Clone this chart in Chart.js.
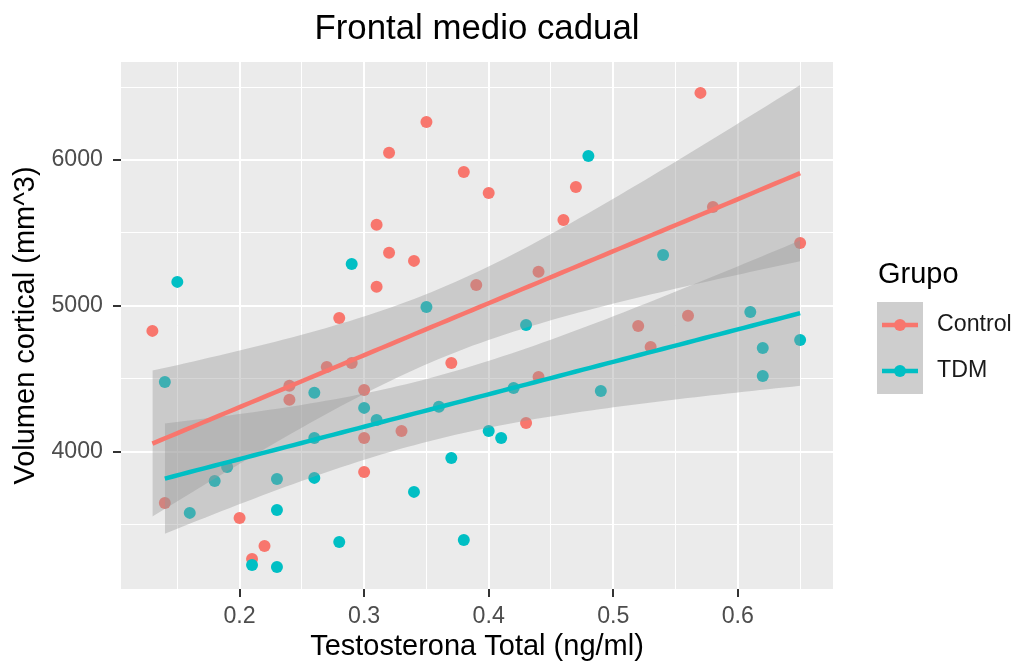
<!DOCTYPE html>
<html><head><meta charset="utf-8">
<script src="https://cdn.jsdelivr.net/npm/chart.js@4.4.1/dist/chart.umd.min.js"></script>
<style>html,body{margin:0;padding:0;background:#fff;}#wrap{width:1018px;height:665px;}</style>
</head><body><div id="wrap"><canvas id="c" width="1018" height="665"></canvas></div>
<script>
const chartTitle = 'Frontal medio cadual';
const xTitle = 'Testosterona Total (ng/ml)';
const yTitle = 'Volumen cortical (mm^3)';
const legendTitle = 'Grupo';
const groupNames = ['Control', 'TDM'];
const groupColors = ['#F8766D', '#00BFC4'];

const controlX = [0.13,0.14,0.20,0.21,0.22,0.24,0.24,0.27,0.28,0.29,0.30,0.30,0.30,0.31,0.31,0.32,0.32,0.33,0.34,0.35,0.37,0.38,0.39,0.40,0.43,0.44,0.44,0.46,0.47,0.52,0.53,0.56,0.57,0.58,0.65];
const controlY = [4828,3648,3545,3264,3353,4451,4355,4581,4917,4608,4423,4094,3861,5555,5130,6049,5363,4142,5308,6261,4608,5917,5143,5773,4197,5233,4512,5588,5814,4862,4718,4931,6460,5678,5431];

const tdmX = [0.14,0.15,0.16,0.18,0.19,0.21,0.23,0.23,0.23,0.26,0.26,0.26,0.28,0.29,0.30,0.31,0.34,0.35,0.36,0.37,0.38,0.40,0.41,0.42,0.43,0.48,0.49,0.54,0.61,0.62,0.62,0.65];
const tdmY = [4478,5164,3580,3799,3895,3223,3813,3600,3209,4403,4094,3820,3381,5286,4300,4217,3724,4992,4307,3957,3394,4142,4094,4437,4869,6027,4416,5348,4958,4711,4519,4766];

const xMajorTicks = [0.2,0.3,0.4,0.5,0.6];
const xMinorTicks = [0.15,0.25,0.35,0.45,0.55,0.65];
const yMajorTicks = [4000,5000,6000];
const yMinorTicks = [3500,4500,5500,6500];
const xLimits = [0.1048, 0.6764];
const yLimits = [3058, 6672];

function tQuantile975(df){
  const z=1.959963985, z3=z*z*z, z5=z3*z*z, z7=z5*z*z;
  return z + (z3+z)/(4*df) + (5*z5+16*z3+3*z)/(96*df*df) + (3*z7+19*z5+17*z3-15*z)/(384*df*df*df);
}
function lmFit(xs, ys, nOut){
  const n = xs.length;
  const xb = xs.reduce((a,b)=>a+b,0)/n, yb = ys.reduce((a,b)=>a+b,0)/n;
  let sxx=0, sxy=0;
  for(let i=0;i<n;i++){ sxx+=(xs[i]-xb)**2; sxy+=(xs[i]-xb)*(ys[i]-yb); }
  const b = sxy/sxx, a = yb - b*xb;
  let sse=0; for(let i=0;i<n;i++){ sse += (ys[i]-a-b*xs[i])**2; }
  const s2 = sse/(n-2), t = tQuantile975(n-2);
  const lo=Math.min(...xs), hi=Math.max(...xs);
  const fit=[], up=[], dn=[];
  for(let i=0;i<nOut;i++){
    const x = lo + (hi-lo)*i/(nOut-1), y = a + b*x;
    const se = Math.sqrt(s2*(1/n + (x-xb)**2/sxx));
    fit.push({x, y}); up.push({x, y: y + t*se}); dn.push({x, y: y - t*se});
  }
  return {fit, up, dn};
}
const toPts = (xs, ys) => xs.map((x,i)=>({x, y: ys[i]}));
const cFit = lmFit(controlX, controlY, 80);
const tFit = lmFit(tdmX, tdmY, 80);
const bandColor = 'rgba(153,153,153,0.4)';
const FONT = "'Liberation Sans', Arial, Helvetica, sans-serif";
Chart.defaults.font.family = FONT;

const pointDs = (label, data, color, order) => ({label, data, showLine:false, pointRadius:6, pointHoverRadius:6,
  pointBorderWidth:0, pointBackgroundColor:color, pointBorderColor:color, backgroundColor:color, borderColor:color, order});
const lineDs = (data, color, order) => ({data, showLine:true, borderColor:color, borderWidth:4.5, pointRadius:0, pointHoverRadius:0, fill:false, order, tension:0});
const bandDs = (data, fill, order) => ({data, showLine:true, borderWidth:0, borderColor:'rgba(0,0,0,0)', backgroundColor:bandColor, pointRadius:0, pointHoverRadius:0, fill, order, tension:0});

const panelBg = {
  id:'panelBg',
  beforeDraw(chart){
    const {ctx, chartArea:a} = chart;
    ctx.save(); ctx.fillStyle='#fff'; ctx.fillRect(0,0,chart.width,chart.height);
    ctx.fillStyle='#EBEBEB'; ctx.fillRect(a.left, a.top, a.right-a.left, a.bottom-a.top); ctx.restore();
  }
};
const legendPlugin = {
  id:'ggLegend',
  afterDraw(chart){
    const ctx = chart.ctx;
    ctx.save();
    ctx.fillStyle='#000'; ctx.font = "29px " + FONT; ctx.textBaseline='alphabetic'; ctx.textAlign='left';
    ctx.fillText(legendTitle, 878, 283);
    const kx=877, ky=302, kw=46, kh=46;
    groupNames.forEach((g,i)=>{
      const y0 = ky + i*kh;
      ctx.fillStyle='#F2F2F2'; ctx.fillRect(kx, y0, kw, kh);
      ctx.fillStyle=bandColor; ctx.fillRect(kx, y0, kw, kh);
      const cy = y0 + kh/2;
      ctx.strokeStyle=groupColors[i]; ctx.lineWidth=4.5; ctx.lineCap='butt';
      ctx.beginPath(); ctx.moveTo(kx+5, cy); ctx.lineTo(kx+kw-5, cy); ctx.stroke();
      ctx.fillStyle=groupColors[i]; ctx.beginPath(); ctx.arc(kx+kw/2, cy, 6, 0, Math.PI*2); ctx.fill();
      ctx.fillStyle='#1A1A1A'; ctx.font = "23.2px " + FONT; ctx.textBaseline='middle';
      ctx.fillText(g, 937, cy);
    });
    ctx.restore();
  }
};

const isMajor = (v, arr) => arr.some(m => Math.abs(m - v) < 1e-9);

new Chart(document.getElementById('c'), {
  type:'line',
  data:{ datasets:[
    lineDs(cFit.fit, groupColors[0], 2),
    lineDs(tFit.fit, groupColors[1], 1),
    bandDs(cFit.up, '+1', 6),
    bandDs(cFit.dn, false, 7),
    bandDs(tFit.up, '+1', 4),
    bandDs(tFit.dn, false, 5),
    pointDs(groupNames[0], toPts(controlX, controlY), groupColors[0], 10),
    pointDs(groupNames[1], toPts(tdmX, tdmY), groupColors[1], 9)
  ]},
  options:{
    responsive:false, animation:false, devicePixelRatio:1,
    layout:{padding:{left:0, right:185, top:0, bottom:0}},
    plugins:{
      legend:{display:false}, tooltip:{enabled:false},
      title:{display:true, text:chartTitle, fullSize:false, color:'#000', font:{size:34.8, weight:'normal'}, padding:{top:8.6, bottom:11.6}}
    },
    scales:{
      x:{ type:'linear', min:xLimits[0], max:xLimits[1],
        afterBuildTicks: s => { s.ticks = [...xMinorTicks, ...xMajorTicks].sort((a,b)=>a-b).map(v=>({value:v})); },
        afterFit: s => { s.height = 76; },
        ticks:{ autoSkip:false, maxRotation:0, color:'#4D4D4D', font:{size:23.2}, padding:6,
          callback: v => isMajor(v, xMajorTicks) ? String(Math.round(v*10)/10) : '' },
        grid:{ color:'#FFFFFF', lineWidth: c => isMajor(c.tick.value, xMajorTicks) ? 2 : 1,
          tickColor: c => isMajor(c.tick.value, xMajorTicks) ? '#333333' : 'rgba(0,0,0,0)', tickLength:8, tickWidth:2 },
        border:{display:false},
        title:{display:true, text:xTitle, color:'#000', font:{size:29}, padding:{top:0, bottom:1}}
      },
      y:{ type:'linear', min:yLimits[0], max:yLimits[1],
        afterBuildTicks: s => { s.ticks = [...yMinorTicks, ...yMajorTicks].sort((a,b)=>a-b).map(v=>({value:v})); },
        afterFit: s => { s.width = 121; },
        ticks:{ autoSkip:false, color:'#4D4D4D', font:{size:23.2}, padding:10,
          callback: v => isMajor(v, yMajorTicks) ? String(v) : '' },
        grid:{ color:'#FFFFFF', lineWidth: c => isMajor(c.tick.value, yMajorTicks) ? 2 : 1,
          tickColor: c => isMajor(c.tick.value, yMajorTicks) ? '#333333' : 'rgba(0,0,0,0)', tickLength:8, tickWidth:2 },
        border:{display:false},
        title:{display:true, text:yTitle, color:'#000', font:{size:29}, padding:{top:8.6, bottom:0}}
      }
    }
  },
  plugins:[panelBg, legendPlugin]
});
</script></body></html>
